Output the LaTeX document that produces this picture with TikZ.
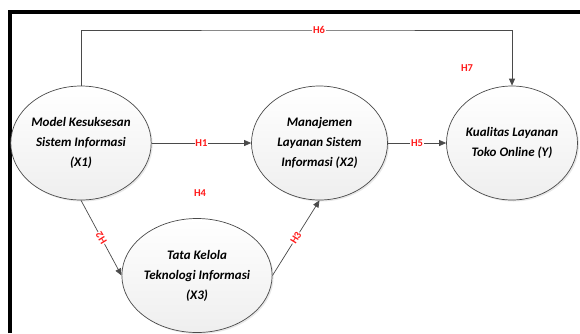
\documentclass[tikz,border=0pt]{standalone}
\usepackage{fontspec}
\setmainfont{Carlito}
\usetikzlibrary{arrows.meta,positioning,shapes.geometric,shadows}
\definecolor{linegray}{HTML}{4A4A4A}
\definecolor{hypred}{HTML}{FF1A1A}

\begin{document}
\begin{tikzpicture}[x=1pt,y=-1pt,
			construct/.style={ellipse, draw=linegray, line width=0.7pt, inner sep=0pt,
				top color=white, bottom color=gray!13,
				drop shadow={opacity=0.18, shadow xshift=1.5pt, shadow yshift=-1.5pt},
				minimum width=136pt, minimum height=114pt, align=center,
				font=\bfseries\itshape\fontsize{13}{20}\selectfont},
			link/.style={draw=linegray, line width=0.7pt, -{Triangle[length=7pt,width=6pt]}},
			hyp/.style={fill=white, inner sep=0.6pt, text=hypred,
				font=\bfseries\fontsize{10.5}{11}\selectfont},
			]
			\useasboundingbox (0,0) rectangle (580,333);
			\draw[line width=4pt] (10.3,333) -- (10.3,11.5) -- (580,11.5);
			
			\node[construct] (X1) at (81,143) {Model Kesuksesan\\Sistem Informasi\\(X1)};
			\node[construct] (X2) at (319.5,143) {Manajemen\\Layanan Sistem\\Informasi (X2)};
			\node[construct, minimum width=131pt] (Y) at (512,143) {Kualitas Layanan\\Toko Online (Y)};
			\node[construct] (X3) at (197,275.5) {Tata Kelola\\Teknologi Informasi\\(X3)};
			
			\coordinate (h6) at (319,30);
			
			\draw[link] (X1) -- node[hyp]{H1} (X2);
			\draw[link] (X2) -- node[hyp]{H5} (Y);
			\draw[link] (X1.south) -- node[hyp, rotate=122]{H2} (X3.west);
			\draw[link] (X3.east) -- node[hyp, sloped]{H3} (X2.south);
			\draw[link] (X1.north) |- (h6) node[hyp]{H6} -| (Y.north);
			
			\node[hyp] (H4) at (200,193) {H4};
			\node[hyp] (H7) at (467,68) {H7};
		\end{tikzpicture}
\end{document}
